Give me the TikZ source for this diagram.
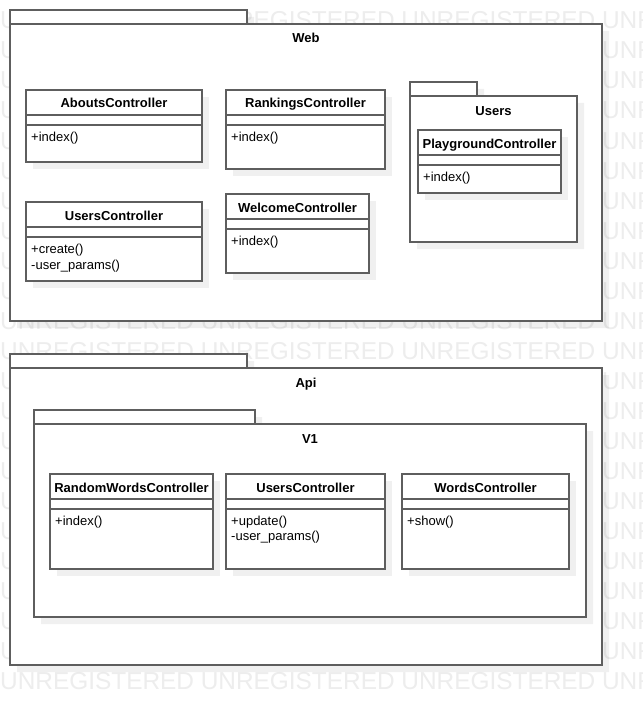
\documentclass[tikz,border=0pt]{standalone}
\usepackage{fontspec}
\setmainfont{Liberation Sans}
\definecolor{umlline}{HTML}{5E5E5E}
\definecolor{wmcol}{HTML}{EDEDED}
\tikzset{
  boxline/.style={draw=umlline, line width=1.6pt, fill=white, inner sep=0pt, outer sep=0pt},
  sepline/.style={draw=umlline, line width=1.6pt},
  shadowbox/.style={fill=black, fill opacity=0.06, draw=none},
  titletext/.style={font=\fontsize{13}{15}\selectfont\bfseries, inner sep=0pt, anchor=base},
  optext/.style={font=\fontsize{13}{15}\selectfont, inner sep=0pt, anchor=base west},
  wmtext/.style={font=\fontsize{24.4}{26}\selectfont, text=wmcol, inner sep=0pt, anchor=base west},
}
% package: #1 name, #2 x1, #3 tab top, #4 tab right, #5 body top, #6 x2, #7 y2, #8 label
\newcommand{\umlpkg}[8]{%
  \fill[shadowbox] (#2+7,#3+7) rectangle (#4+7,#5+7) (#2+7,#5+7) rectangle (#6+7,#7+7);
  \draw[boxline] (#2,#3) rectangle (#4,#5);
  \node[boxline, anchor=north west, minimum width={(#6-#2)*1pt}, minimum height={(#7-#5)*1pt}] (#1) at (#2,#5) {};
  \node[titletext] (#1-label) at ({(#2+#6)/2},#5+19) {#8};
}
% class: #1 name, #2 x1, #3 y1, #4 x2, #5 y2, #6 title
\newcommand{\umlcls}[6]{%
  \fill[shadowbox] (#2+7,#3+7) rectangle (#4+7,#5+7);
  \node[boxline, anchor=north west, minimum width={(#4-#2)*1pt}, minimum height={(#5-#3)*1pt}] (#1) at (#2,#3) {};
  \draw[sepline] ([yshift=-25pt]#1.north west) -- ([yshift=-25pt]#1.north east);
  \draw[sepline] ([yshift=-35pt]#1.north west) -- ([yshift=-35pt]#1.north east);
  \node[titletext] (#1-title) at ([yshift=-18pt]#1.north) {#6};
}
% operation: #1 node name, #2 class, #3 offset from top, #4 text
\newcommand{\umlop}[4]{%
  \node[optext] (#1) at ([xshift=5pt,yshift=-#3pt]#2.north west) {#4};
}
\begin{document}
\begin{tikzpicture}[x=1pt, y=-1pt]
  \useasboundingbox (0,0) rectangle (642,706);
  \fill[white] (0,0) rectangle (642,706);
  % watermark (only the parts not hidden by the packages)
  \begin{scope}
    \clip (0,0) rectangle (642,706);
    \foreach \k in {0,10,11,22} {
      \node[wmtext] (wmrow\k) at (0,29+30*\k) {UNREGISTERED UNREGISTERED UNREGISTERED UNR};
    }
    \foreach \k in {1,...,9,12,13,...,21} {
      \node[wmtext] (wmleft\k) at (0,29+30*\k) {U};
      \node[wmtext] (wmright\k) at (602,29+30*\k) {UNR};
    }
  \end{scope}

  % Web package
  \umlpkg{web}{10}{10}{247}{24}{602}{321}{Web}
  \umlcls{abouts}{26}{90}{202}{162}{AboutsController}
  \umlop{abouts-op1}{abouts}{51}{+index()}
  \umlcls{rankings}{226}{90}{385}{169}{RankingsController}
  \umlop{rankings-op1}{rankings}{51}{+index()}
  \umlcls{webusers}{26}{202}{202}{281}{UsersController}
  \umlop{webusers-op1}{webusers}{51}{+create()}
  \umlop{webusers-op2}{webusers}{67}{-user\_params()}
  \umlcls{welcome}{226}{194}{369}{273}{WelcomeController}
  \umlop{welcome-op1}{welcome}{51}{+index()}
  % Users sub-package
  \umlpkg{userspkg}{410}{82}{477}{96}{577}{242}{Users}
  \umlcls{playground}{418}{130}{561}{193}{PlaygroundController}
  \umlop{playground-op1}{playground}{51}{+index()}

  % Api package
  \umlpkg{api}{10}{354}{247}{368}{602}{665}{Api}
  \umlpkg{v1}{34}{410}{255}{424}{586}{617}{V1}
  \umlcls{random}{50}{474}{213}{569}{RandomWordsController}
  \umlop{random-op1}{random}{51}{+index()}
  \umlcls{apiusers}{226}{474}{385}{569}{UsersController}
  \umlop{apiusers-op1}{apiusers}{51}{+update()}
  \umlop{apiusers-op2}{apiusers}{66}{-user\_params()}
  \umlcls{words}{402}{474}{569}{569}{WordsController}
  \umlop{words-op1}{words}{51}{+show()}
\end{tikzpicture}
\end{document}
